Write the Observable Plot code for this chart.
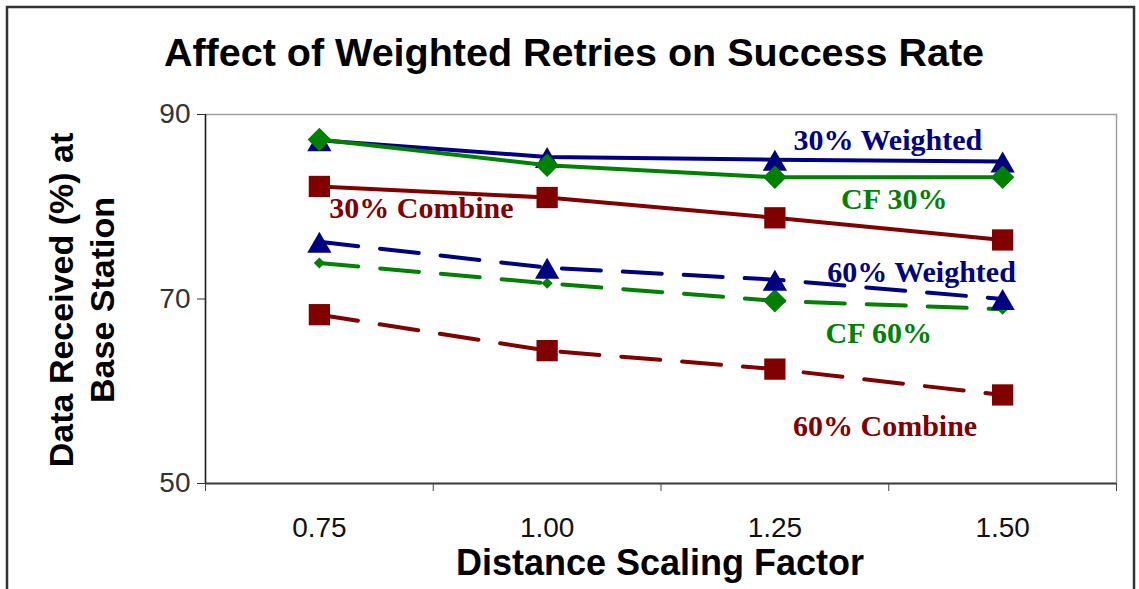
<!DOCTYPE html>
<html><head><meta charset="utf-8">
<script src="https://cdn.jsdelivr.net/npm/d3@7"></script>
<script src="https://cdn.jsdelivr.net/npm/@observablehq/plot@0.6"></script>
<style>
body{margin:0;background:#fff}
#chart{position:relative;width:1139px;height:589px;overflow:hidden;background:#fff}
</style>
</head><body><div id="chart"></div>
<script>
// ---- data ----
const categories = [0.75, 1.00, 1.25, 1.50];
const categoryEdges = [0.625, 0.875, 1.125, 1.375, 1.625];
const yTicks = [50, 70, 90];
const combine30  = [82.2, 81.0, 78.8, 76.4];
const weighted30 = [87.2, 85.4, 85.1, 84.9];
const cf30       = [87.3, 84.5, 83.2, 83.2];
const combine60  = [68.3, 64.4, 62.4, 59.6];
const cf60       = [73.9, 71.7, 69.8, 68.9];
const weighted60 = [76.2, 73.4, 72.1, 70.0];
const seriesNames = ["30% Combine", "30% Weighted", "CF 30%", "60% Combine", "CF 60%", "60% Weighted"];
const seriesValues = [combine30, weighted30, cf30, combine60, cf60, weighted60];
// in-plot series labels (anchor in data units)
const labelText = ["30% Weighted", "CF 30%", "30% Combine", "60% Weighted", "CF 60%", "60% Combine"];
const labelX = [1.374, 1.381, 0.862, 1.411, 1.364, 1.371];
const labelY = [86.1, 79.8, 78.8, 71.8, 65.2, 55.2];

// ---- styles ----
const NAVY = "#000080", GREEN = "#008000", RED = "#800000";
const style = {
  "30% Combine":  {color: RED,   dash: null,    symbol: "square",   r: 12},
  "30% Weighted": {color: NAVY,  dash: null,    symbol: "triangle", r: 9, dy: 4},
  "CF 30%":       {color: GREEN, dash: null,    symbol: "diamond2", r: 10.6},
  "60% Combine":  {color: RED,   dash: "39,22", symbol: "square",   r: 12},
  "CF 60%":       {color: GREEN, dash: "39,22", symbol: "diamond2", r: 5, big: [1.25]},
  "60% Weighted": {color: NAVY,  dash: "39,22", symbol: "triangle", r: 9, dy: 4}
};
const labelColor = {"30% Weighted": NAVY, "CF 30%": GREEN, "30% Combine": RED, "60% Weighted": NAVY, "CF 60%": GREEN, "60% Combine": RED};

const rows = [];
seriesValues.forEach((vals, s) => vals.forEach((v, i) => rows.push({series: seriesNames[s], x: categories[i], y: v})));
const labels = labelText.map((t, i) => ({text: t, x: labelX[i], y: labelY[i]}));

const marks = [
  Plot.frame({stroke: "#a0a0a0", strokeWidth: 1.5}),
  Plot.text(labels, {x: "x", y: "y", text: "text", fill: d => labelColor[d.text],
    fontFamily: "Liberation Serif", fontWeight: "bold", fontSize: 30, lineAnchor: "bottom", textAnchor: "middle"})
];
for (const name of seriesNames) {
  const st = style[name];
  const data = rows.filter(d => d.series === name);
  marks.push(Plot.line(data, {x: "x", y: "y", stroke: st.color, strokeWidth: 4, strokeDasharray: st.dash || undefined}));
  const small = st.big ? data.filter(d => !st.big.includes(d.x)) : data;
  const big = st.big ? data.filter(d => st.big.includes(d.x)) : [];
  marks.push(Plot.dot(small, {x: "x", y: "y", symbol: () => st.symbol, fill: st.color, stroke: "none", r: st.r, dy: st.dy || 0}));
  if (big.length) marks.push(Plot.dot(big, {x: "x", y: "y", symbol: () => st.symbol, fill: st.color, stroke: "none", r: 10.6}));
}
marks.push(
  Plot.ruleX([0.625], {stroke: "#222", strokeWidth: 1.5}),
  Plot.ruleY([50], {stroke: "#404040", strokeWidth: 2}),
  Plot.axisY({ticks: yTicks, tickSize: 8, tickPadding: 7, fontSize: 28, label: null, color: "#333"}),
  Plot.axisX({ticks: categoryEdges, tickSize: 8, tickFormat: () => "", label: null, color: "#444"}),
  Plot.axisX({ticks: categories, tickSize: 0, tickPadding: 34, tickFormat: d3.format(".2f"), fontSize: 28, label: null, color: "#111"})
);

const chart = Plot.plot({
  width: 1139, height: 589,
  marginLeft: 205, marginRight: 23, marginTop: 114, marginBottom: 106,
  x: {domain: [0.625, 1.625]},
  y: {domain: [50, 90]},
  symbol: {type: "identity"},
  style: {fontFamily: "Liberation Sans", background: "#fff", overflow: "visible"},
  marks
});
document.getElementById("chart").appendChild(chart);

const svg = d3.select(chart);
svg.append("rect").attr("x", 7).attr("y", 7).attr("width", 1127).attr("height", 620)
  .attr("fill", "none").attr("stroke", "#333").attr("stroke-width", 2.5);
svg.append("text").attr("x", 574).attr("y", 66).attr("text-anchor", "middle")
  .attr("font-family", "Liberation Sans").attr("font-weight", "bold").attr("font-size", 39.5).attr("fill", "#000")
  .text("Affect of Weighted Retries on Success Rate");
svg.append("text").attr("x", 660).attr("y", 575).attr("text-anchor", "middle")
  .attr("font-family", "Liberation Sans").attr("font-weight", "bold").attr("font-size", 36).attr("fill", "#000")
  .text("Distance Scaling Factor");
const yt = svg.append("text").attr("transform", "translate(73,300) rotate(-90)").attr("text-anchor", "middle")
  .attr("font-family", "Liberation Sans").attr("font-weight", "bold").attr("font-size", 34).attr("fill", "#000");
yt.append("tspan").attr("x", 0).attr("y", 0).text("Data Received (%) at");
yt.append("tspan").attr("x", 0).attr("y", 41).text("Base Station");
</script>
</body></html>
